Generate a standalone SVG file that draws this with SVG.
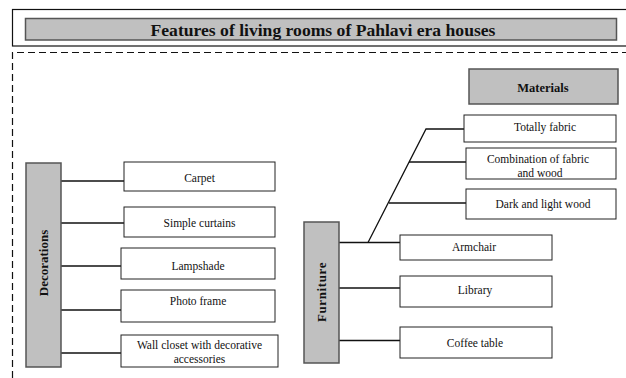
<svg xmlns="http://www.w3.org/2000/svg" width="626" height="378" viewBox="0 0 626 378">
  <style>
    .box { fill: #ffffff; stroke: #222222; stroke-width: 1; }
    .head { fill: #c0c0c0; stroke: #555555; stroke-width: 1.5; }
    text { font-family: "Liberation Serif", "Times New Roman", Times, serif; fill: #111111; text-anchor: middle; }
    .lbl { font-size: 11.5px; font-weight: normal; font-style: normal; }
    .bold { font-weight: bold; }
    .link { stroke: #111111; stroke-width: 1.3; fill: none; }
  </style>

  <!-- title banner -->
  <g id="title">
    <rect x="12.5" y="9.5" width="620" height="36.5" fill="none" stroke="#111111" stroke-width="1.2"/>
    <rect class="head" x="25.5" y="18.5" width="591" height="21.5"/>
    <text class="bold" x="323" y="35.5" font-size="17.6">Features of living rooms of Pahlavi era houses</text>
  </g>

  <!-- dashed frame around the content -->
  <path d="M12.5 378 V52.5 H626" fill="none" stroke="#111111" stroke-width="1.2" stroke-dasharray="7 4"/>

  <!-- connectors -->
  <g id="connectors">
    <path class="link" d="M61 181 H124"/>
    <path class="link" d="M61 223 H124"/>
    <path class="link" d="M61 266 H121"/>
    <path class="link" d="M61 310 H121"/>
    <path class="link" d="M61 353 H121"/>
    <path class="link" d="M339 242.5 H400"/>
    <path class="link" d="M339 288 H400"/>
    <path class="link" d="M339 340.5 H400"/>
    <path class="link" d="M368 242.5 L426 129 H464"/>
    <path class="link" d="M409 162 H466"/>
    <path class="link" d="M389 203 H466"/>
  </g>

  <!-- decorations branch -->
  <g id="decorations">
    <rect class="head" x="26" y="163" width="35" height="204"/>
    <text class="bold" font-size="13" transform="translate(48 263) rotate(-90)">Decorations</text>
  </g>
  <g id="carpet">
    <rect class="box" x="124" y="162" width="151" height="29"/>
    <text class="lbl" x="199.5" y="181.5">Carpet</text>
  </g>
  <g id="simple-curtains">
    <rect class="box" x="124" y="207" width="151" height="30"/>
    <text class="lbl" x="199.5" y="226.5">Simple curtains</text>
  </g>
  <g id="lampshade">
    <rect class="box" x="121" y="248" width="154" height="31"/>
    <text class="lbl" x="198" y="270">Lampshade</text>
  </g>
  <g id="photo-frame">
    <rect class="box" x="121" y="290" width="154" height="32"/>
    <text class="lbl" x="198" y="304.5">Photo frame</text>
  </g>
  <g id="wall-closet">
    <rect class="box" x="121" y="335" width="157" height="32"/>
    <text class="lbl" x="199.5" y="349">Wall closet with decorative</text>
    <text class="lbl" x="199.5" y="363">accessories</text>
  </g>

  <!-- furniture branch -->
  <g id="furniture">
    <rect class="head" x="304" y="222" width="35" height="141"/>
    <text class="bold" font-size="13" letter-spacing="0.6" transform="translate(326 292) rotate(-90)">Furniture</text>
  </g>
  <g id="armchair">
    <rect class="box" x="400" y="235" width="152" height="25"/>
    <text class="lbl" x="474" y="251">Armchair</text>
  </g>
  <g id="library">
    <rect class="box" x="400" y="276" width="152" height="31"/>
    <text class="lbl" x="475" y="294">Library</text>
  </g>
  <g id="coffee-table">
    <rect class="box" x="400" y="327" width="152" height="31"/>
    <text class="lbl" x="475" y="347">Coffee table</text>
  </g>

  <!-- materials of the armchair -->
  <g id="materials">
    <rect class="head" x="469" y="69" width="149" height="35"/>
    <text class="bold" font-size="12.5" x="543" y="92">Materials</text>
  </g>
  <g id="totally-fabric">
    <rect class="box" x="464" y="115" width="152" height="27"/>
    <text class="lbl" x="545" y="131">Totally fabric</text>
  </g>
  <g id="fabric-and-wood">
    <rect class="box" x="466" y="148" width="150" height="31"/>
    <text class="lbl" x="538" y="162.5">Combination of fabric</text>
    <text class="lbl" x="540" y="176.5">and wood</text>
  </g>
  <g id="dark-light-wood">
    <rect class="box" x="466" y="189" width="150" height="30"/>
    <text class="lbl" x="543" y="208">Dark and light wood</text>
  </g>
</svg>
